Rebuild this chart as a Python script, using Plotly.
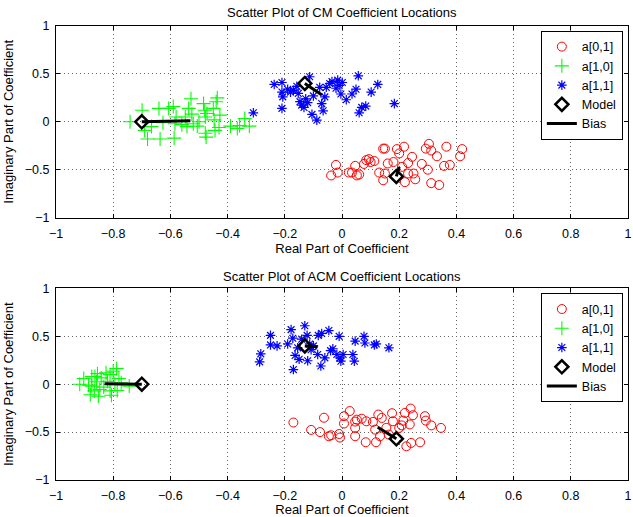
import plotly.graph_objects as go
from plotly.subplots import make_subplots

# ---------------- CM (top) ----------------
cm_a01_re = [-0.038, -0.021, -0.015, 0.024, 0.035, 0.046, 0.052, 0.077, 0.085, 0.094, 0.113, 0.13,
             0.144, 0.15, 0.144, 0.15, 0.18, 0.192, 0.2, 0.21, 0.217, 0.22, 0.231, 0.231, 0.245,
             0.25, 0.256, 0.279, 0.293, 0.304, 0.312, 0.312, 0.332, 0.34, 0.357, 0.365, 0.377,
             0.413, 0.42, 0.3, 0.16, 0.06, 0.1]
cm_a01_im = [-0.56, -0.45, -0.53, -0.53, -0.53, -0.46, -0.56, -0.44, -0.40, -0.39, -0.41, -0.53,
             -0.28, -0.28, -0.61, -0.54, -0.42, -0.285, -0.33, -0.47, -0.26, -0.63, -0.43, -0.54,
             -0.366, -0.54, -0.6, -0.44, -0.28, -0.23, -0.3, -0.64, -0.36, -0.66, -0.46, -0.26,
             -0.45, -0.36, -0.285, -0.5, -0.435, -0.55, -0.42]

cm_a10_re = [-0.741, -0.699, -0.69, -0.68, -0.666, -0.64, -0.636, -0.626, -0.606, -0.59, -0.587,
             -0.584, -0.58, -0.548, -0.542, -0.536, -0.528, -0.525, -0.52, -0.506, -0.484, -0.48,
             -0.478, -0.478, -0.475, -0.472, -0.45, -0.447, -0.444, -0.44, -0.436, -0.43, -0.427,
             -0.39, -0.366, -0.358, -0.34, -0.324, -0.56, -0.5]
cm_a10_im = [0.0, 0.12, -0.09, -0.18, -0.05, 0.14, -0.18, -0.01, 0.14, 0.16, -0.17, -0.02, 0.05,
             0.05, -0.05, 0.14, 0.24, 0.08, -0.02, -0.045, 0.19, 0.12, 0.05, -0.12, -0.16, 0.087,
             0.14, 0.02, -0.09, 0.21, 0.25, -0.06, 0.07, -0.045, -0.07, -0.04, 0.035, -0.045,
             -0.03, 0.0]

cm_a11_re = [-0.31, -0.237, -0.21, -0.21, -0.207, -0.21, -0.19, -0.18, -0.158, -0.153, -0.147,
             -0.141, -0.133, -0.127, -0.113, -0.105, -0.1, -0.088, -0.078, -0.071, -0.066, -0.06,
             -0.055, -0.043, -0.035, -0.021, -0.015, -0.01, -0.004, 0.001, 0.015, 0.035, 0.049,
             0.057, 0.06, 0.069, 0.083, 0.102, 0.125, 0.183, -0.17, -0.12]
cm_a11_im = [0.094, 0.39, 0.41, 0.31, 0.26, 0.14, 0.34, 0.31, 0.37, 0.296, 0.21, 0.174, 0.15,
             0.24, 0.47, 0.077, 0.27, 0.017, 0.36, 0.19, 0.115, 0.26, 0.36, 0.4, 0.42, 0.35,
             0.435, 0.38, 0.29, 0.41, 0.23, 0.29, 0.34, 0.48, 0.094, 0.15, 0.164, 0.31, 0.39,
             0.19, 0.33, 0.2]

cm_model_re = [0.19, -0.70, -0.13]
cm_model_im = [-0.57, 0.0, 0.40]
cm_bias_end_re = [0.20, -0.53, -0.07]
cm_bias_end_im = [-0.47, 0.01, 0.28]

# ---------------- ACM (bottom) ----------------
acm_a01_re = [-0.17, -0.108, -0.077, -0.063, -0.046, -0.038, -0.01, -0.007, 0.007, 0.007, 0.027,
              0.046, 0.046, 0.046, 0.052, 0.069, 0.083, 0.085, 0.108, 0.116, 0.119, 0.127, 0.133,
              0.139, 0.155, 0.164, 0.175, 0.178, 0.2, 0.209, 0.214, 0.22, 0.225, 0.237, 0.24,
              0.242, 0.248, 0.273, 0.29, 0.293, 0.312, 0.346]
acm_a01_im = [-0.4, -0.477, -0.5, -0.35, -0.543, -0.533, -0.52, -0.557, -0.334, -0.41, -0.28,
              -0.39, -0.456, -0.543, -0.37, -0.36, -0.606, -0.387, -0.394, -0.474, -0.606, -0.317,
              -0.543, -0.352, -0.456, -0.526, -0.303, -0.387, -0.456, -0.43, -0.38, -0.3, -0.648,
              -0.42, -0.254, -0.613, -0.324, -0.606, -0.334, -0.38, -0.43, -0.456]

acm_a10_re = [-0.917, -0.903, -0.886, -0.88, -0.875, -0.864, -0.858, -0.855, -0.852, -0.847,
              -0.842, -0.833, -0.825, -0.82, -0.811, -0.811, -0.806, -0.8, -0.794, -0.788, -0.786,
              -0.78, -0.772, -0.744, -0.875, -0.866]
acm_a10_im = [0.0, 0.06, -0.01, -0.11, -0.02, 0.08, 0.025, 0.11, -0.125, -0.055, 0.066, -0.03,
              0.12, 0.03, -0.07, 0.1, -0.115, 0.136, 0.003, 0.164, -0.066, 0.06, 0.014, -0.02,
              0.08, -0.07]

acm_a11_re = [-0.288, -0.284, -0.25, -0.25, -0.227, -0.19, -0.178, -0.172, -0.17, -0.164, -0.155,
              -0.15, -0.141, -0.13, -0.122, -0.12, -0.108, -0.085, -0.083, -0.074, -0.071, -0.06,
              -0.046, -0.04, -0.032, -0.018, -0.01, -0.007, -0.004, 0.004, 0.038, 0.043, 0.046,
              0.077, 0.08, 0.113, 0.12, 0.164, -0.1, -0.113]
acm_a11_im = [0.233, 0.317, 0.51, 0.41, 0.4, 0.42, 0.57, 0.48, 0.153, 0.3, 0.38, 0.26, 0.47,
              0.61, 0.51, 0.245, 0.36, 0.31, 0.51, 0.19, 0.53, 0.275, 0.56, 0.35, 0.37, 0.31,
              0.5, 0.275, 0.24, 0.31, 0.31, 0.24, 0.45, 0.5, 0.43, 0.41, 0.42, 0.38, 0.4, 0.42]

acm_model_re = [0.19, -0.70, -0.13]
acm_model_im = [-0.57, 0.0, 0.40]
acm_bias_end_re = [0.125, -0.83, -0.085]
acm_bias_end_im = [-0.45, 0.005, 0.39]

x_ticks = [-1, -0.8, -0.6, -0.4, -0.2, 0, 0.2, 0.4, 0.6, 0.8, 1]
y_ticks = [-1, -0.5, 0, 0.5, 1]
titles = ["Scatter Plot of CM Coefficient Locations", "Scatter Plot of ACM Coefficient Locations"]
x_label = "Real Part of Coefficient"
y_label = "Imaginary Part of Coefficient"
names = ["a[0,1]", "a[1,0]", "a[1,1]", "Model", "Bias"]

FONT = "Liberation Sans, Arial, Helvetica, sans-serif"
FS = 12.5

fig = make_subplots(rows=2, cols=1, vertical_spacing=0.15)


def seg(ax, ay, bx, by):
    xs, ys = [], []
    for x0, y0, x1, y1 in zip(ax, ay, bx, by):
        xs += [x0, x1, None]
        ys += [y0, y1, None]
    return xs, ys


datasets = [
    (cm_a01_re, cm_a01_im, cm_a10_re, cm_a10_im, cm_a11_re, cm_a11_im,
     cm_model_re, cm_model_im, cm_bias_end_re, cm_bias_end_im),
    (acm_a01_re, acm_a01_im, acm_a10_re, acm_a10_im, acm_a11_re, acm_a11_im,
     acm_model_re, acm_model_im, acm_bias_end_re, acm_bias_end_im),
]

for i, d in enumerate(datasets):
    row = i + 1
    lg = "legend" if i == 0 else "legend2"
    a01x, a01y, a10x, a10y, a11x, a11y, mx, my, bx, by = d
    fig.add_trace(go.Scatter(x=a01x, y=a01y, mode="markers", name=names[0], legend=lg, legendrank=1,
                             marker=dict(symbol="circle-open", size=9, color="#ff0000",
                                         line=dict(width=1, color="#ff0000"))), row=row, col=1)
    fig.add_trace(go.Scatter(x=a10x, y=a10y, mode="markers", name=names[1], legend=lg, legendrank=2,
                             marker=dict(symbol="cross-thin-open", size=10, color="#00ff00",
                                         line=dict(width=1.1, color="#00ff00"))), row=row, col=1)
    fig.add_trace(go.Scatter(x=a11x, y=a11y, mode="markers", name=names[2], legend=lg, legendrank=3,
                             marker=dict(symbol="asterisk-open", size=8, color="#0000ff",
                                         line=dict(width=1.2, color="#0000ff"))), row=row, col=1)
    sx, sy = seg(mx, my, bx, by)
    fig.add_trace(go.Scatter(x=sx, y=sy, mode="lines", name=names[4], legend=lg, legendrank=5,
                             line=dict(color="black", width=3)), row=row, col=1)
    fig.add_trace(go.Scatter(x=mx, y=my, mode="markers", name=names[3], legend=lg, legendrank=4,
                             marker=dict(symbol="diamond-open", size=10, color="black",
                                         line=dict(width=2.5, color="black"))), row=row, col=1)

axis_common = dict(showline=True, linecolor="black", linewidth=1, mirror="ticks",
                   ticks="inside", ticklen=4, tickcolor="black", showgrid=True,
                   gridcolor="#666666", griddash="1px,3px", gridwidth=1, zeroline=False,
                   ticklabeloverflow="allow",
                   tickfont=dict(size=FS, color="black", family=FONT))

for r in (1, 2):
    fig.update_xaxes(range=[-1, 1], tickvals=x_ticks, row=r, col=1, ticklabelstandoff=4,
                     title=dict(text=x_label, font=dict(size=13, color="black", family=FONT),
                                standoff=3), **axis_common)
    fig.update_yaxes(range=[-1, 1], tickvals=y_ticks, row=r, col=1, ticklabelstandoff=3,
                     title=dict(text=y_label, font=dict(size=13, color="black", family=FONT),
                                standoff=8), **axis_common)

legend_common = dict(xanchor="right", yanchor="top", bordercolor="black", borderwidth=1,
                     bgcolor="white", font=dict(size=FS, family=FONT, color="black"),
                     tracegroupgap=0, itemwidth=30, traceorder="normal")

TOP_DOM = [0.578, 1.0]
BOT_DOM = [0.0, 0.422]

fig.update_layout(
    width=633, height=517,
    margin=dict(l=56, r=1.5, t=25.5, b=36.5),
    paper_bgcolor="white", plot_bgcolor="white",
    font=dict(family=FONT, size=FS, color="black"),
    yaxis=dict(domain=TOP_DOM),
    yaxis2=dict(domain=BOT_DOM),
    legend=dict(x=0.991, y=TOP_DOM[1] - 0.011, **legend_common),
    legend2=dict(x=0.991, y=BOT_DOM[1] - 0.011, **legend_common),
    annotations=[
        dict(text=titles[0], x=0.5, y=TOP_DOM[1], xref="paper", yref="paper", yanchor="middle",
             yshift=13.5, showarrow=False, font=dict(size=13, family=FONT, color="black")),
        dict(text=titles[1], x=0.5, y=BOT_DOM[1], xref="paper", yref="paper", yanchor="middle",
             yshift=12, showarrow=False, font=dict(size=13, family=FONT, color="black")),
    ],
)

# remove the page's default 8px body margin so the figure sits at the window's top-left corner
fig.write_html("out.html", config={"displayModeBar": False},
               post_script="document.body.style.margin='0px';")
